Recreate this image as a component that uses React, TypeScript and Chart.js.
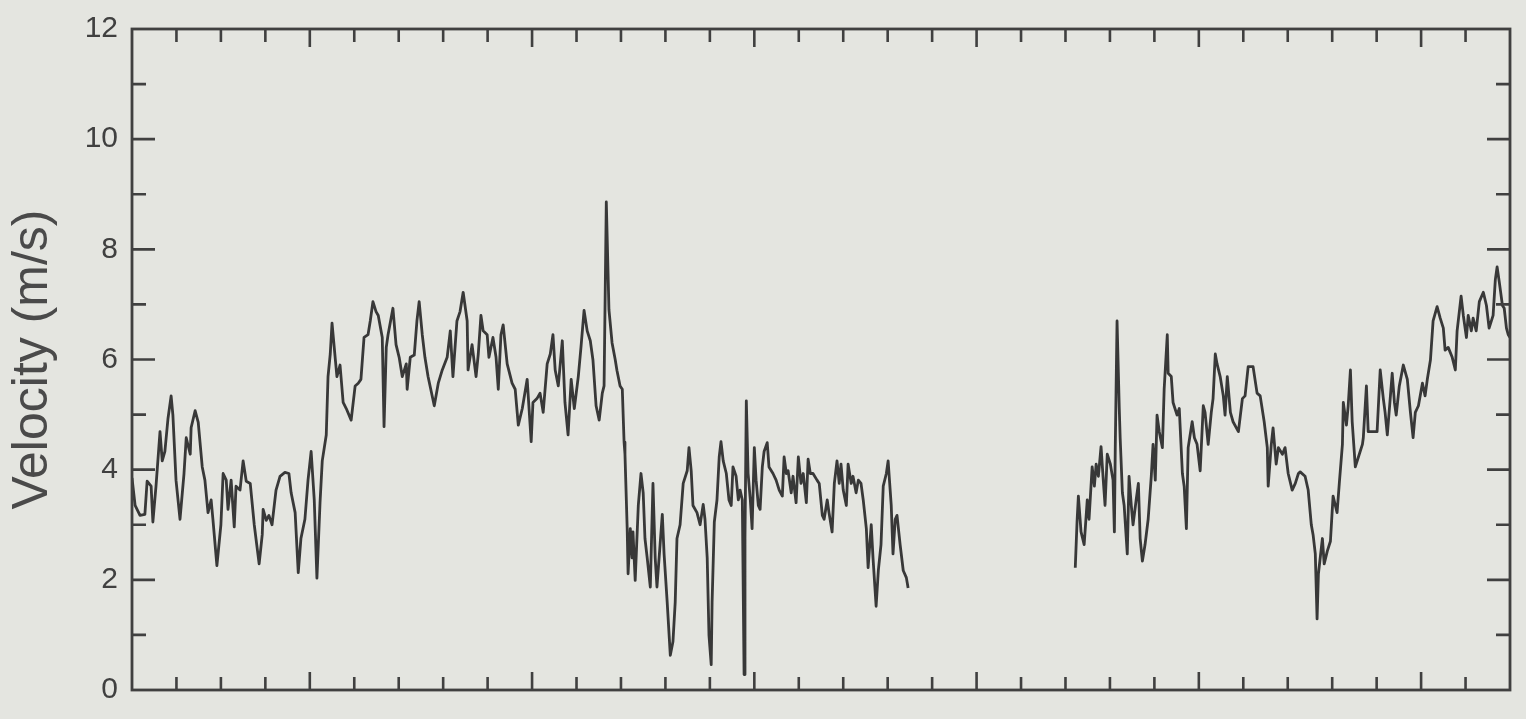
import React, { useEffect, useRef } from 'react';
import { Chart, registerables } from 'chart.js';

Chart.register(...registerables);

// Time axis: arbitrary time units (one minor tick = 10 units), range 0..310
const seg1Time = [
  0, 0.7, 1.8, 2.9, 3.4, 4.3, 4.7, 5.4, 6.3, 6.8,
  7.4, 8.1, 8.8, 9.2, 9.9, 10.8, 11.7, 12.2, 13.1, 13.3,
  14.2, 14.9, 15.8, 16.4, 17.1, 17.8, 18.2, 19.1, 20.0, 20.5,
  21.2, 21.6, 22.3, 23.0, 23.4, 24.3, 25.0, 25.7, 26.6, 27.5,
  28.6, 29.3, 29.5, 30.2, 30.8, 31.5, 32.4, 33.3, 34.4, 35.3,
  35.8, 36.7, 37.4, 38.0, 38.9, 39.6, 40.3, 41.0, 41.6, 42.3,
  42.8, 43.7, 44.1, 44.6, 45.0, 45.7, 46.1, 46.8, 47.5, 48.2,
  49.3, 50.2, 50.9, 51.5, 52.2, 53.1, 53.6, 54.2, 54.9, 55.4,
  56.3, 56.7, 57.2, 57.6, 58.7, 59.4, 60.1, 60.8, 61.7, 61.9,
  62.6, 63.5, 64.1, 64.6, 65.3, 65.9, 66.6, 68.0, 68.9, 69.8,
  70.9, 71.6, 72.2, 73.1, 73.8, 74.5, 75.4, 75.6, 76.5, 77.4,
  77.9, 78.5, 79.0, 79.9, 80.3, 81.2, 81.9, 82.4, 83.0, 83.5,
  84.4, 85.5, 86.2, 86.9, 87.8, 88.9, 89.8, 90.2, 91.1, 91.8,
  92.5, 93.4, 94.1, 94.7, 95.2, 95.9, 96.8, 97.4, 98.1, 98.8,
  99.5, 100.4, 101.0, 101.7, 102.4, 103.1, 103.7, 104.4, 105.1, 105.8,
  106.2, 106.7, 107.3, 108.0, 108.7, 109.1, 109.8, 110.3, 110.7, 110.9,
  111.4, 111.6, 112.1, 112.5, 112.7, 113.2, 113.9, 114.5, 115.0, 115.4,
  115.9, 116.6, 117.2, 117.7, 118.1, 118.8, 119.3, 119.7, 120.4, 121.1,
  121.7, 122.2, 122.6, 123.3, 124.0, 124.9, 125.3, 125.8, 126.2, 127.1,
  127.8, 128.5, 128.9, 129.4, 129.8, 130.3, 130.5, 131.0, 131.6, 132.1,
  132.5, 133.0, 133.7, 134.3, 134.8, 135.2, 135.9, 136.4, 136.8, 137.3,
  137.7, 137.9, 138.2, 138.6, 139.1, 139.5, 140.0, 140.4, 140.9, 141.3,
  141.8, 142.2, 142.9, 143.3, 144.2, 144.9, 145.6, 146.3, 146.7, 147.2,
  147.6, 148.3, 148.7, 149.4, 149.9, 150.5, 151.0, 151.7, 152.1, 152.6,
  153.2, 154.1, 154.6, 155.3, 155.7, 156.4, 156.8, 157.5, 158.0, 158.6,
  159.1, 159.5, 160.0, 160.7, 161.1, 161.8, 162.2, 162.9, 163.4, 164.0,
  164.5, 165.2, 165.6, 166.3, 166.7, 167.4, 167.9, 168.5, 169.0, 169.7,
  170.1, 170.8, 171.2, 171.7, 172.1, 172.8, 173.5, 174.2, 174.6,
];

const seg1Vel = [
  3.85, 3.35, 3.17, 3.19, 3.79, 3.70, 3.05, 3.70, 4.69, 4.16,
  4.33, 4.93, 5.34, 4.99, 3.81, 3.10, 3.93, 4.58, 4.28, 4.76,
  5.07, 4.86, 4.05, 3.81, 3.22, 3.45, 3.10, 2.26, 3.00, 3.93,
  3.81, 3.28, 3.81, 2.96, 3.70, 3.63, 4.16, 3.79, 3.75, 3.00,
  2.29, 2.82, 3.28, 3.08, 3.17, 3.00, 3.63, 3.88, 3.95, 3.93,
  3.58, 3.22, 2.13, 2.75, 3.10, 3.81, 4.33, 3.45, 2.03, 3.40,
  4.16, 4.63, 5.69, 6.10, 6.66, 6.04, 5.69, 5.90, 5.22, 5.11,
  4.90, 5.52, 5.57, 5.64, 6.40, 6.45, 6.70, 7.05, 6.87, 6.80,
  6.40, 4.78, 6.22, 6.45, 6.93, 6.27, 6.04, 5.69, 5.92, 5.46,
  6.04, 6.08, 6.70, 7.05, 6.45, 6.04, 5.69, 5.16, 5.57, 5.81,
  6.04, 6.52, 5.69, 6.70, 6.87, 7.22, 6.70, 5.81, 6.27, 5.69,
  6.10, 6.80, 6.52, 6.45, 6.04, 6.40, 6.04, 5.46, 6.45, 6.63,
  5.92, 5.57, 5.46, 4.81, 5.11, 5.64, 4.51, 5.22, 5.29, 5.39,
  5.04, 5.92, 6.10, 6.45, 5.81, 5.52, 6.34, 5.22, 4.63, 5.64,
  5.11, 5.69, 6.22, 6.89, 6.52, 6.34, 5.99, 5.16, 4.90, 5.39,
  5.52, 8.86, 6.90, 6.30, 6.00, 5.80, 5.52, 5.46, 4.50, 4.28,
  2.93, 2.11, 2.93, 2.40, 2.87, 1.99, 3.35, 3.93, 3.58, 2.75,
  2.40, 1.87, 3.75, 2.40, 1.87, 2.64, 3.19, 2.47, 1.59, 0.63,
  0.88, 1.59, 2.75, 3.00, 3.75, 3.98, 4.40, 3.98, 3.35, 3.22,
  3.00, 3.37, 3.10, 2.40, 0.99, 0.46, 1.59, 3.05, 3.45, 4.23,
  4.51, 4.16, 3.93, 3.45, 3.35, 4.05, 3.88, 3.45, 3.63, 3.45,
  0.28, 2.75, 5.25, 3.93, 3.45, 2.93, 4.40, 3.81, 3.35, 3.28,
  4.05, 4.33, 4.49, 4.05, 3.93, 3.81, 3.63, 3.52, 4.23, 3.93,
  3.98, 3.58, 3.88, 3.40, 4.23, 3.75, 3.93, 3.40, 4.19, 3.93,
  3.93, 3.81, 3.75, 3.17, 3.10, 3.45, 3.22, 2.87, 3.75, 4.16,
  3.75, 4.10, 3.63, 3.35, 4.10, 3.75, 3.88, 3.58, 3.81, 3.75,
  3.45, 2.93, 2.22, 3.00, 2.40, 1.52, 2.17, 2.64, 3.70, 3.93,
  4.16, 3.35, 2.47, 3.10, 3.17, 2.64, 2.17, 2.04, 1.85,
];

const seg2Time = [
  212.2, 212.6, 212.9, 213.5, 214.2, 214.9, 215.3, 216.0, 216.5, 216.9,
  217.4, 218.0, 218.5, 218.9, 219.4, 220.1, 220.7, 221.0, 221.2, 221.6,
  222.1, 222.3, 222.8, 223.2, 223.9, 224.3, 224.8, 225.2, 225.9, 226.4,
  226.8, 227.3, 227.9, 228.6, 229.3, 229.7, 230.2, 230.6, 231.1, 231.8,
  232.2, 232.9, 233.1, 233.8, 234.2, 235.1, 235.6, 236.3, 236.7, 237.2,
  237.6, 238.5, 239.0, 239.6, 240.3, 241.0, 241.4, 242.1, 242.8, 243.2,
  243.7, 244.1, 244.8, 245.5, 245.9, 246.4, 247.1, 247.7, 248.9, 249.8,
  250.4, 251.1, 252.2, 253.1, 253.8, 254.7, 255.4, 255.6, 256.3, 256.7,
  257.4, 257.9, 258.8, 259.4, 260.1, 261.0, 261.7, 262.4, 262.8, 263.9,
  264.6, 265.3, 265.7, 266.2, 266.6, 266.9, 267.8, 268.2, 268.9, 269.6,
  270.2, 271.1, 271.6, 272.3, 272.5, 273.2, 273.6, 274.1, 274.5, 275.2,
  275.9, 276.8, 277.0, 277.7, 278.1, 279.0, 280.1, 280.8, 281.5, 281.9,
  282.4, 283.1, 283.5, 284.0, 284.4, 285.1, 286.0, 286.9, 287.6, 288.2,
  288.7, 289.4, 290.3, 290.9, 291.4, 292.1, 292.7, 293.6, 294.3, 295.0,
  295.4, 296.1, 297.0, 297.7, 298.1, 299.0, 299.5, 300.2, 300.6, 301.3,
  301.7, 302.4, 303.1, 304.0, 304.7, 305.3, 306.2, 306.7, 307.1, 307.6,
  308.3, 308.7, 309.2, 309.6, 310.0,
];

const seg2Vel = [
  2.22, 3.05, 3.52, 2.87, 2.64, 3.45, 3.10, 4.05, 3.70, 4.10,
  3.88, 4.42, 3.81, 3.35, 4.28, 4.10, 3.81, 2.87, 4.40, 6.70,
  5.11, 4.58, 3.58, 3.35, 2.47, 3.88, 3.35, 3.00, 3.45, 3.75,
  2.75, 2.34, 2.64, 3.10, 3.88, 4.46, 3.81, 4.99, 4.69, 4.40,
  5.46, 6.45, 5.75, 5.69, 5.22, 4.99, 5.11, 3.93, 3.70, 2.93,
  4.40, 4.87, 4.58, 4.46, 3.98, 5.16, 5.04, 4.46, 5.04, 5.29,
  6.10, 5.92, 5.69, 5.34, 4.99, 5.69, 5.04, 4.87, 4.69, 5.29,
  5.34, 5.87, 5.87, 5.39, 5.34, 4.87, 4.40, 3.70, 4.46, 4.76,
  4.10, 4.40, 4.28, 4.40, 3.93, 3.63, 3.75, 3.93, 3.96, 3.88,
  3.63, 3.00, 2.82, 2.47, 1.29, 2.11, 2.75, 2.29, 2.52, 2.70,
  3.52, 3.22, 3.75, 4.46, 5.22, 4.81, 5.16, 5.81, 4.87, 4.05,
  4.23, 4.46, 4.58, 5.52, 4.69, 4.69, 4.69, 5.81, 5.29, 5.04,
  4.63, 5.34, 5.75, 5.22, 4.99, 5.52, 5.90, 5.64, 5.04, 4.58,
  5.04, 5.16, 5.57, 5.34, 5.64, 5.99, 6.70, 6.96, 6.75, 6.57,
  6.17, 6.22, 6.04, 5.81, 6.52, 7.15, 6.80, 6.40, 6.80, 6.52,
  6.75, 6.52, 7.05, 7.22, 6.98, 6.57, 6.80, 7.45, 7.68, 7.40,
  6.98, 6.93, 6.57, 6.45, 6.40,
];

const xTickValues = [
  0, 10, 20, 30, 40, 50, 60, 70, 80, 90, 100, 110, 120, 130, 140, 150,
  160, 170, 180, 190, 200, 210, 220, 230, 240, 250, 260, 270, 280, 290, 300, 310,
];
const xMajorTickValues = [40, 90, 140, 190, 240, 290];
const yTickValues = [0, 1, 2, 3, 4, 5, 6, 7, 8, 9, 10, 11, 12];
const yLabelValues = [0, 2, 4, 6, 8, 10, 12];

const INK = '#404040';
const FONT = '"Liberation Sans", Arial, Helvetica, sans-serif';

export default function App() {
  const ref = useRef<HTMLCanvasElement>(null);

  useEffect(() => {
    const canvas = ref.current;
    if (!canvas) return;

    const framePlugin = {
      id: 'frameTicks',
      afterDatasetsDraw(chart: any) {
        const { ctx, chartArea: a, scales } = chart;
        const xs = scales.x;
        const ys = scales.y;
        ctx.save();
        ctx.strokeStyle = INK;
        ctx.lineWidth = 2.6;
        ctx.lineCap = 'butt';
        ctx.beginPath();
        for (const v of xTickValues) {
          const px = xs.getPixelForValue(v);
          if (px <= a.left + 1 || px >= a.right - 1) continue;
          const len = xMajorTickValues.includes(v) ? 18 : 13;
          ctx.moveTo(px, a.bottom);
          ctx.lineTo(px, a.bottom - len);
          ctx.moveTo(px, a.top);
          ctx.lineTo(px, a.top + len);
        }
        for (const v of yTickValues) {
          const py = ys.getPixelForValue(v);
          if (py <= a.top + 1 || py >= a.bottom - 1) continue;
          const len = yLabelValues.includes(v) ? 23 : 14;
          ctx.moveTo(a.left, py);
          ctx.lineTo(a.left + len, py);
          ctx.moveTo(a.right, py);
          ctx.lineTo(a.right - len, py);
        }
        ctx.stroke();
        ctx.lineWidth = 2.8;
        ctx.strokeRect(a.left, a.top, a.right - a.left, a.bottom - a.top);
        ctx.restore();
      },
    };

    const lineStyle = {
      borderColor: '#383838',
      borderWidth: 2.8,
      pointRadius: 0,
      tension: 0,
      fill: false,
      borderJoinStyle: 'round',
    };

    const chart = new Chart(canvas, {
      type: 'line',
      data: {
        datasets: [
          { ...lineStyle, data: seg1Time.map((t, i) => ({ x: t, y: seg1Vel[i] })) },
          { ...lineStyle, data: seg2Time.map((t, i) => ({ x: t, y: seg2Vel[i] })) },
        ],
      },
      options: {
        animation: false,
        responsive: false,
        maintainAspectRatio: false,
        layout: { padding: { left: 0, top: 22, right: 16, bottom: 16 } },
        plugins: {
          legend: { display: false },
          tooltip: { enabled: false },
        },
        scales: {
          x: {
            type: 'linear',
            display: false,
            min: 0,
            max: 310,
          },
          y: {
            type: 'linear',
            position: 'left',
            min: 0,
            max: 12,
            grid: { display: false, drawTicks: false },
            border: { display: false },
            ticks: {
              stepSize: 2,
              padding: 14,
              color: INK,
              font: { family: FONT, size: 30, lineHeight: 1 },
            },
            title: {
              display: true,
              text: 'Velocity (m/s)',
              color: '#4a4a4a',
              font: { family: FONT, size: 50, lineHeight: 1.2 },
              padding: { top: 3, bottom: 0 },
            },
            afterFit: (s: any) => {
              s.width = 132;
            },
          },
        },
      },
      plugins: [framePlugin],
    } as any);

    return () => chart.destroy();
  }, []);

  return (
    <div
      style={{
        position: 'absolute',
        left: 0,
        top: 0,
        width: 1526,
        height: 719,
        background: '#e4e5e0',
      }}
    >
      <canvas ref={ref} width={1526} height={719} style={{ display: 'block' }} />
    </div>
  );
}
